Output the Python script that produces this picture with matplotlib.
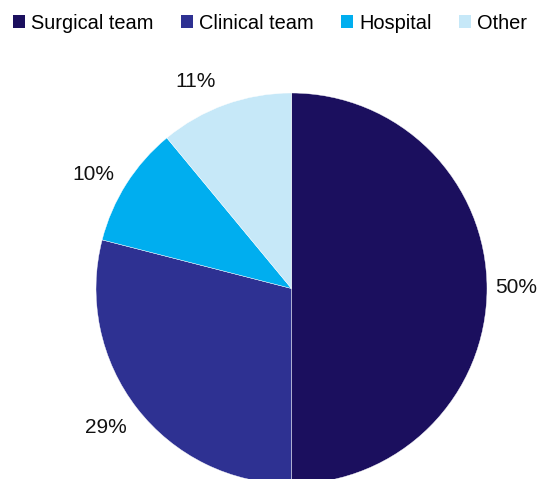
import numpy as np
import matplotlib.pyplot as plt
from matplotlib.patches import Patch

plt.rcParams['font.family'] = ['Liberation Sans', 'DejaVu Sans']

# share of responses by group
groups = ['Surgical team', 'Clinical team', 'Hospital', 'Other']
shares = [50, 29, 10, 11]
colors = ['#1b0f5e', '#2e3192', '#00aeef', '#c6e8f8']

# label placement tweaks (radius in pie radii, extra angle in degrees)
label_r = [1.15, 1.185, 1.17, 1.165]
label_dang = [0.3, -1.0, 2.5, 5.0]

W, H = 556, 479
fig = plt.figure(figsize=(W / 100, H / 100), dpi=100)

# pie axes: 391 px square, centred at (291.5, 288.5) px from top-left
size = 391
ax = fig.add_axes([96 / W, (H - 484) / H, size / W, size / H])

wedges, _ = ax.pie(shares, colors=colors, startangle=90, counterclock=False,
                   wedgeprops=dict(edgecolor='white', linewidth=0.3))
for w, s, r, da in zip(wedges, shares, label_r, label_dang):
    w.set_clip_on(False)
    mid = np.deg2rad((w.theta1 + w.theta2) / 2 + da)
    ax.text(r * np.cos(mid), r * np.sin(mid), f'{s}%', ha='center', va='center',
            fontsize=15, color='#111111', clip_on=False)
ax.set_xlim(-1, 1)
ax.set_ylim(-1, 1)
ax.set_aspect('auto')
ax.axis('off')

handles = [Patch(facecolor=c, edgecolor='none') for c in colors]
fig.legend(handles, groups, loc='upper left', bbox_to_anchor=(7 / W, 1 - 8 / H),
           ncol=4, frameon=False, fontsize=14.4, handlelength=0.62, handleheight=0.62,
           handletextpad=0.3, columnspacing=1.35, borderaxespad=0, borderpad=0.3)

fig.savefig('out.png', dpi=100)
